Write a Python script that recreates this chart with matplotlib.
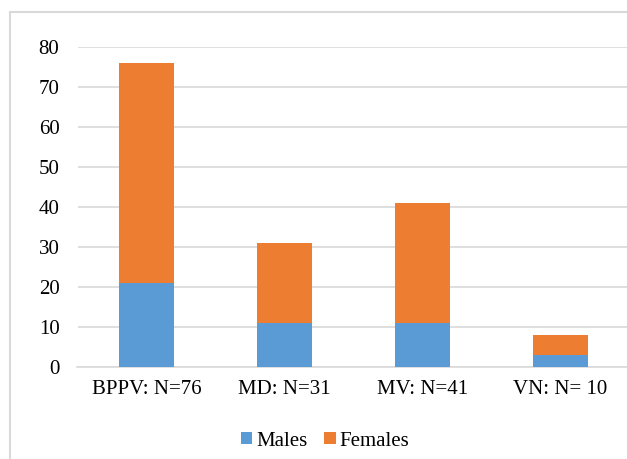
import matplotlib.pyplot as plt
from matplotlib.patches import Rectangle

categories = ["BPPV: N=76", "MD: N=31", "MV: N=41", "VN: N= 10"]
males = [21, 11, 11, 3]
females = [55, 20, 30, 5]

blue = "#5B9BD5"
orange = "#ED7D31"
grid = "#D9D9D9"

plt.rcParams["font.family"] = ["Liberation Serif", "DejaVu Serif"]
plt.rcParams["font.size"] = 15

W, H = 627, 459
fig = plt.figure(figsize=(W / 100, H / 100), dpi=100)
ax = fig.add_axes([77.5 / W, (H - 367) / H, 552 / W, 320 / H])

x = range(len(categories))
ax.bar(x, males, width=0.4, color=blue, label="Males", zorder=3)
ax.bar(x, females, width=0.4, bottom=males, color=orange, label="Females", zorder=3)

ax.set_xlim(-0.5, 3.5)
ax.set_ylim(0, 80)
ax.set_yticks(range(0, 81, 10))
ax.set_xticks(list(x))
ax.set_xticklabels(categories)
ax.tick_params(axis="both", length=0)
ax.tick_params(axis="y", pad=13)
ax.tick_params(axis="x", pad=9)
ax.yaxis.grid(True, color=grid, linewidth=1.2, zorder=0)
for s in ["top", "right", "left"]:
    ax.spines[s].set_visible(False)
ax.spines["bottom"].set_color(grid)
ax.spines["bottom"].set_linewidth(1.2)

fig.legend(loc="center", bbox_to_anchor=(325 / W, 1 - 441 / H), ncol=2,
           frameon=False, handlelength=0.55, handleheight=0.55,
           handletextpad=0.2, columnspacing=0.8, borderaxespad=0)

# chart border (cropped at right and bottom in the original)
fig.patches.append(Rectangle((10 / W, -0.1), 1.2, (H - 12) / H + 0.1,
                             transform=fig.transFigure, fill=False,
                             edgecolor=grid, linewidth=1.5))

fig.savefig("out.png", dpi=100)
